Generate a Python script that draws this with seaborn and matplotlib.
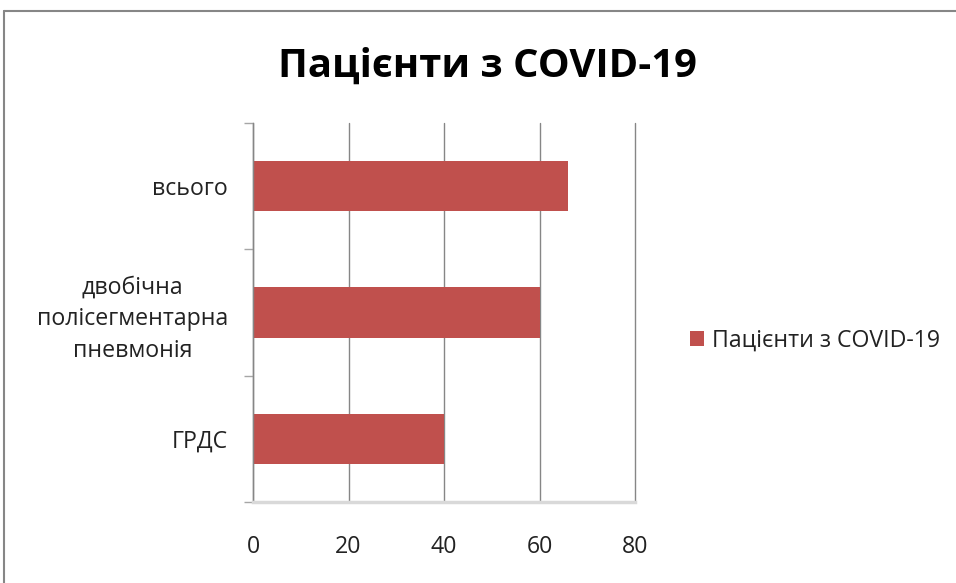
import matplotlib
matplotlib.use("Agg")
import matplotlib.pyplot as plt
import seaborn as sns
import pandas as pd
from matplotlib.lines import Line2D
from matplotlib.ticker import FixedLocator

categories = ["всього", "двобічна\nполісегментарна\nпневмонія", "ГРДС"]
values = [66, 60, 40]
series_name = "Пацієнти з COVID-19"
title = "Пацієнти з COVID-19"
x_ticks = [0, 20, 40, 60, 80]

sns.set_theme(style="white")
plt.rcParams["font.family"] = ["Open Sans", "DejaVu Sans"]

df = pd.DataFrame({"category": categories, "value": values})

fig = plt.figure(figsize=(9.56, 5.83), dpi=100)
ax = fig.add_axes([253/956, 1-502/583, (635-253)/956, (502-123)/583])

sns.barplot(data=df, x="value", y="category", orient="h", color="#C0504D",
            width=0.4, saturation=1, ax=ax, label=series_name, order=categories,
            linewidth=0, edgecolor="none")

ax.set_xlim(0, 80)
ax.set_ylim(2.5, -0.5)
ax.set_xticks(x_ticks)
ax.set_xlabel("")
ax.set_ylabel("")
ax.grid(axis="x", color="#868686", linewidth=1)
ax.set_axisbelow(True)
for gl in ax.get_xgridlines():
    gl.set_clip_on(False)

for s in ["top", "right"]:
    ax.spines[s].set_visible(False)
ax.spines["left"].set_color("#868686")
ax.spines["left"].set_linewidth(1)
ax.spines["bottom"].set_color("#D9D9D9")
ax.spines["bottom"].set_linewidth(2.5)

fs = 16.7
ax.tick_params(axis="x", direction="out", length=6, width=1, color="#868686",
               labelsize=fs, labelcolor="#222222", pad=18)
ax.tick_params(axis="y", which="major", length=0, labelsize=fs,
               labelcolor="#222222", pad=18)
ax.yaxis.set_minor_locator(FixedLocator([-0.5, 0.5, 1.5, 2.5]))
ax.tick_params(axis="y", which="minor", direction="out", length=6.5, width=1,
               color="#A6A6A6", left=True)
for lbl in ax.get_yticklabels():
    lbl.set_multialignment("center")
    lbl.set_linespacing(1.44)

fig.text(487/956, 1-66/583, title, ha="center", va="center",
         fontsize=28.8, fontweight="bold", color="black")

leg = ax.legend(loc="center left", bbox_to_anchor=(690/956, 1-341/583),
                bbox_transform=fig.transFigure, frameon=False,
                fontsize=fs, handlelength=0.6, handleheight=0.6,
                handletextpad=0.35, borderpad=0, borderaxespad=0)
for t in leg.get_texts():
    t.set_color("#222222")

# chart border (cropped frame)
fig.add_artist(Line2D([4/956, 4/956], [0, 1-11/583], transform=fig.transFigure,
                      color="#868686", linewidth=1.5))
fig.add_artist(Line2D([4/956, 1], [1-11/583, 1-11/583], transform=fig.transFigure,
                      color="#868686", linewidth=1.5))

fig.savefig("out.png", dpi=100)
